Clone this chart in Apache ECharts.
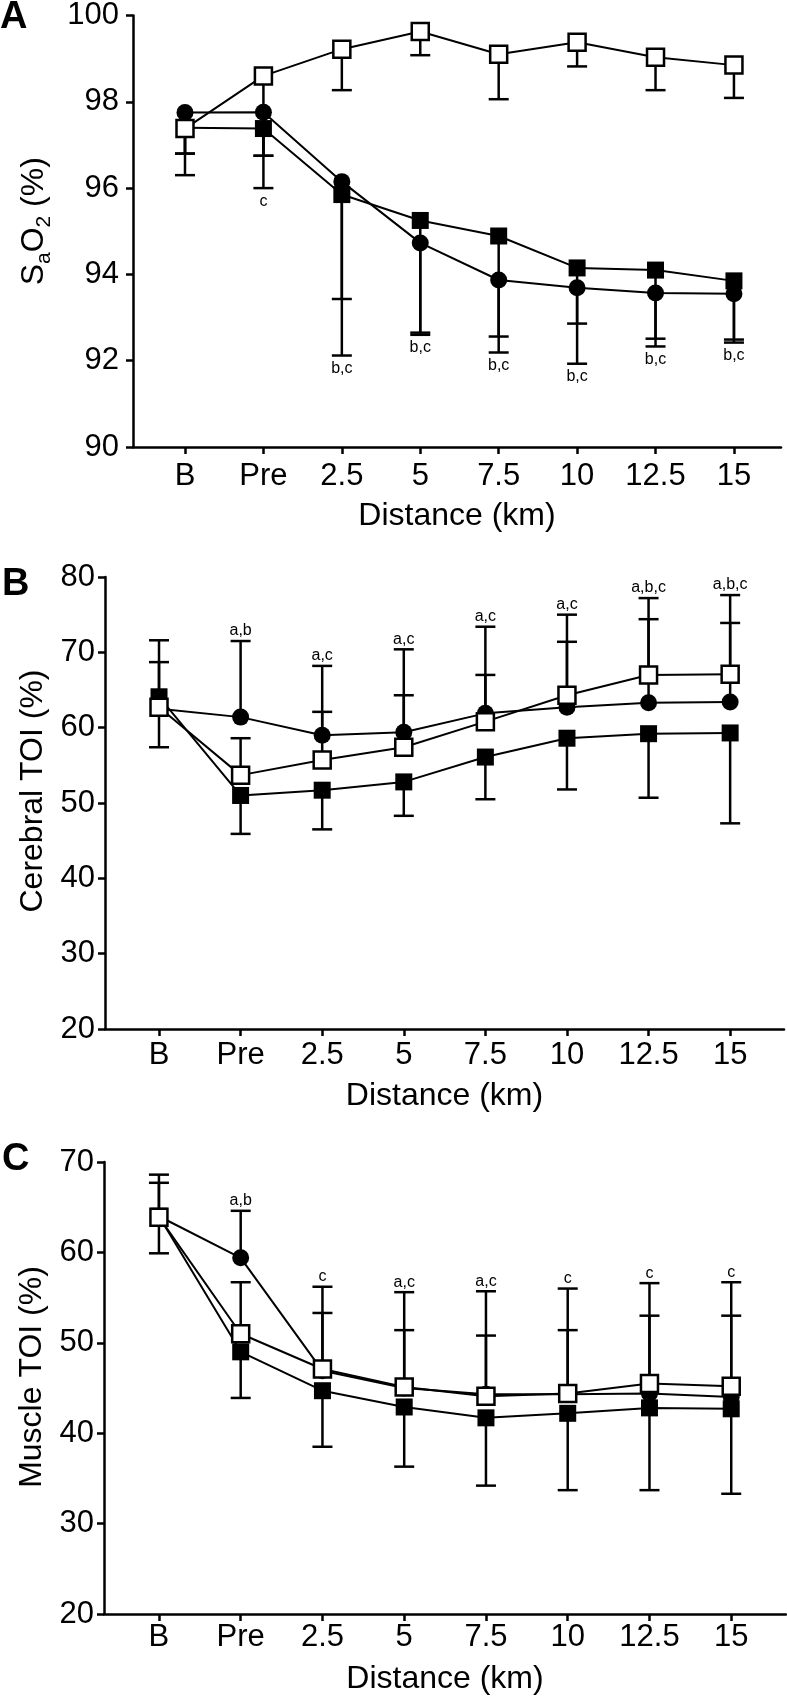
<!DOCTYPE html>
<html><head><meta charset="utf-8">
<script src="https://cdn.jsdelivr.net/npm/echarts@6/dist/echarts.min.js"></script>
<style>html,body{margin:0;padding:0;background:#fff}#c{width:787px;height:1702px}</style>
</head><body><div id="c"></div>
<script>
const cats = ['B','Pre','2.5','5','7.5','10','12.5','15'];

// Panel A: SaO2 (%)
const saCircle   = [97.75, 97.76, 96.15, 94.73, 93.87, 93.69, 93.57, 93.55];
const saCircleLo = [96.3, 96.0, 92.12, 92.6, 92.19, 91.93, 92.33, 92.42];
const saFilled   = [97.4, 97.38, 95.85, 95.25, 94.89, 94.15, 94.1, 93.85];
const saFilledLo = [96.8, 96.75, 93.43, 92.65, 92.56, 92.86, 92.51, 92.49];
const saOpen     = [97.38, 98.6, 99.22, 99.63, 99.1, 99.38, 99.03, 98.85];
const saOpenLo   = [96.8, 96.75, 98.27, 99.08, 98.06, 98.82, 98.27, 98.09];
const annA = ['', 'c', 'b,c', 'b,c', 'b,c', 'b,c', 'b,c', 'b,c'];

// Panel B: Cerebral TOI (%)
const cbCircle   = [62.5, 61.4, 59.0, 59.4, 61.9, 62.7, 63.3, 63.4];
const cbCircleHi = [71.6, 71.5, 68.2, 70.4, 73.4, 75.0, 77.2, 77.6];
const cbFilled   = [64.1, 51.0, 51.7, 52.8, 56.1, 58.6, 59.2, 59.3];
const cbFilledLo = [57.4, 45.9, 46.5, 48.3, 50.5, 51.8, 50.7, 47.3];
const cbOpen     = [62.7, 53.7, 55.7, 57.4, 60.8, 64.3, 67.0, 67.1];
const cbOpenHi   = [68.7, 58.6, 62.1, 64.3, 67.0, 71.4, 74.4, 73.9];
const annB = ['', 'a,b', 'a,c', 'a,c', 'a,c', 'a,c', 'a,b,c', 'a,b,c'];

// Panel C: Muscle TOI (%)
const muCircle   = [64.0, 59.4, 46.9, 45.0, 44.3, 44.3, 44.4, 44.0];
const muCircleHi = [68.6, 64.6, 56.2, 55.6, 55.7, 56.0, 56.6, 56.7];
const muFilled   = [64.0, 49.0, 44.7, 42.9, 41.7, 42.2, 42.8, 42.7];
const muFilledLo = [59.9, 43.9, 38.5, 36.3, 34.2, 33.7, 33.7, 33.3];
const muOpen     = [63.9, 51.0, 47.1, 45.1, 44.1, 44.4, 45.5, 45.2];
const muOpenHi   = [67.7, 56.7, 53.3, 51.4, 50.8, 51.4, 53.0, 53.0];
const annC = ['', 'a,b', 'c', 'a,c', 'a,c', 'c', 'c', 'c'];

const FF = "'Liberation Sans', Arial, sans-serif";
const FS = 31;   // tick labels
const FT = 32;   // axis titles
const idx = cats.map((_, i) => i);
const chart = echarts.init(document.getElementById('c'), null, {renderer: 'canvas'});

function xAxis(g, min, max, margin, gap) {
  return {
    type: 'value', gridIndex: g, min: min, max: max,
    axisLine: {show: true, onZero: false, lineStyle: {color: '#000', width: 2.5}},
    axisTick: {show: true, customValues: idx, length: 7, lineStyle: {color: '#000', width: 2.5}},
    axisLabel: {customValues: idx, formatter: v => cats[Math.round(v)], fontSize: FS, fontFamily: FF, color: '#000', margin: margin},
    splitLine: {show: false},
    name: 'Distance (km)', nameLocation: 'middle', nameGap: gap,
    nameTextStyle: {fontSize: FT, fontFamily: FF, color: '#000'}
  };
}
function yAxis(g, min, max, interval, name, gap, margin, shift, rich) {
  const o = {
    type: 'value', gridIndex: g, min: min, max: max, interval: interval,
    axisLine: {show: true, onZero: false, lineStyle: {color: '#000', width: 2.5}},
    axisTick: {show: true, length: 7, lineStyle: {color: '#000', width: 2.5}},
    axisLabel: {fontSize: FS, fontFamily: FF, color: '#000', margin: margin},
    splitLine: {show: false},
    name: name, nameLocation: 'middle', nameGap: gap, nameRotate: 90,
    nameTextStyle: {fontSize: FT, fontFamily: FF, color: '#000', padding: [0, 0, 0, shift]}
  };
  if (rich) o.nameTextStyle.rich = rich;
  return o;
}

function errSeries(g, mean, end) {
  return {
    type: 'custom', xAxisIndex: g, yAxisIndex: g, z: 1, silent: true,
    data: idx.map(i => [i, mean[i], end[i]]),
    encode: {x: 0, y: [1, 2]},
    renderItem: function (params, api) {
      const x = api.value(0);
      const p0 = api.coord([x, api.value(1)]);
      const p1 = api.coord([x, api.value(2)]);
      const st = {stroke: '#000', lineWidth: 2.5};
      return {type: 'group', children: [
        {type: 'line', shape: {x1: p0[0], y1: p0[1], x2: p1[0], y2: p1[1]}, style: st},
        {type: 'line', shape: {x1: p1[0] - 10, y1: p1[1], x2: p1[0] + 10, y2: p1[1]}, style: st}
      ]};
    }
  };
}
function annSeries(g, texts, caps, below) {
  return {
    type: 'custom', xAxisIndex: g, yAxisIndex: g, z: 6, silent: true,
    data: idx.map(i => [i, caps[i]]),
    encode: {x: 0, y: 1},
    renderItem: function (params, api) {
      const p = api.coord([api.value(0), api.value(1)]);
      return {type: 'text', x: p[0], y: below ? p[1] + 5 : p[1] - 2,
        style: {text: texts[params.dataIndex], fill: '#000', font: '16px ' + FF,
          align: 'center', verticalAlign: below ? 'top' : 'bottom'}};
    }
  };
}
function lineSeries(g, data, kind, z) {
  return {
    type: 'line', xAxisIndex: g, yAxisIndex: g, z: z,
    data: idx.map(i => [i, data[i]]),
    lineStyle: {color: '#000', width: 2},
    symbolSize: kind === 'circle' ? 17 : 17,
    symbol: kind === 'circle' ? 'circle' : 'rect',
    itemStyle: kind === 'open' ? {color: '#fff', borderColor: '#000', borderWidth: 2.5} : {color: '#000'},
    showSymbol: true, animation: false
  };
}

const capA = idx.map(i => Math.min(saCircleLo[i], saFilledLo[i], saOpenLo[i]));
const capB = idx.map(i => Math.max(cbCircleHi[i], cbOpenHi[i]));
const capC = idx.map(i => Math.max(muCircleHi[i], muOpenHi[i]));

const subRich = {
  n: {fontSize: FT, fontFamily: FF, color: '#000', verticalAlign: 'top', lineHeight: 35},
  s: {fontSize: 21, fontFamily: FF, color: '#000', verticalAlign: 'top', lineHeight: 21, padding: [16, 0, 0, 0]}
};

chart.setOption({
  animation: false,
  backgroundColor: '#fff',
  grid: [
    {left: 133, top: 13, right: 6, height: 434},
    {left: 105, top: 577, right: 3, height: 452},
    {left: 104, top: 1162, right: 1, height: 452}
  ],
  xAxis: [
    xAxis(0, -0.663, 7.6, 14, 53),
    xAxis(1, -0.662, 7.66, 11, 51),
    xAxis(2, -0.672, 7.67, 8, 49)
  ],
  yAxis: [
    yAxis(0, 90, 100, 2, '{n|S}{s|a}{n|O}{s|2}{n| (%)}', 80, 14, 20, subRich),
    yAxis(1, 20, 80, 10, 'Cerebral TOI (%)', 53, 10, 24),
    yAxis(2, 20, 70, 10, 'Muscle TOI (%)', 54, 10, 22)
  ],
  graphic: [
    {type: 'text', x: 0, y: -1, style: {text: 'A', font: 'bold 38px ' + FF, fill: '#000', verticalAlign: 'top'}},
    {type: 'text', x: 2, y: 566, style: {text: 'B', font: 'bold 38px ' + FF, fill: '#000', verticalAlign: 'top'}},
    {type: 'text', x: 2, y: 1141, style: {text: 'C', font: 'bold 38px ' + FF, fill: '#000', verticalAlign: 'top'}}
  ],
  series: [
    errSeries(0, saCircle, saCircleLo), errSeries(0, saFilled, saFilledLo), errSeries(0, saOpen, saOpenLo),
    lineSeries(0, saCircle, 'circle', 2), lineSeries(0, saFilled, 'filled', 3), lineSeries(0, saOpen, 'open', 4),
    annSeries(0, annA, capA, true),

    errSeries(1, cbCircle, cbCircleHi), errSeries(1, cbFilled, cbFilledLo), errSeries(1, cbOpen, cbOpenHi),
    lineSeries(1, cbCircle, 'circle', 2), lineSeries(1, cbFilled, 'filled', 3), lineSeries(1, cbOpen, 'open', 4),
    annSeries(1, annB, capB, false),

    errSeries(2, muCircle, muCircleHi), errSeries(2, muFilled, muFilledLo), errSeries(2, muOpen, muOpenHi),
    lineSeries(2, muCircle, 'circle', 2), lineSeries(2, muFilled, 'filled', 3), lineSeries(2, muOpen, 'open', 4),
    annSeries(2, annC, capC, false)
  ]
});
</script></body></html>
